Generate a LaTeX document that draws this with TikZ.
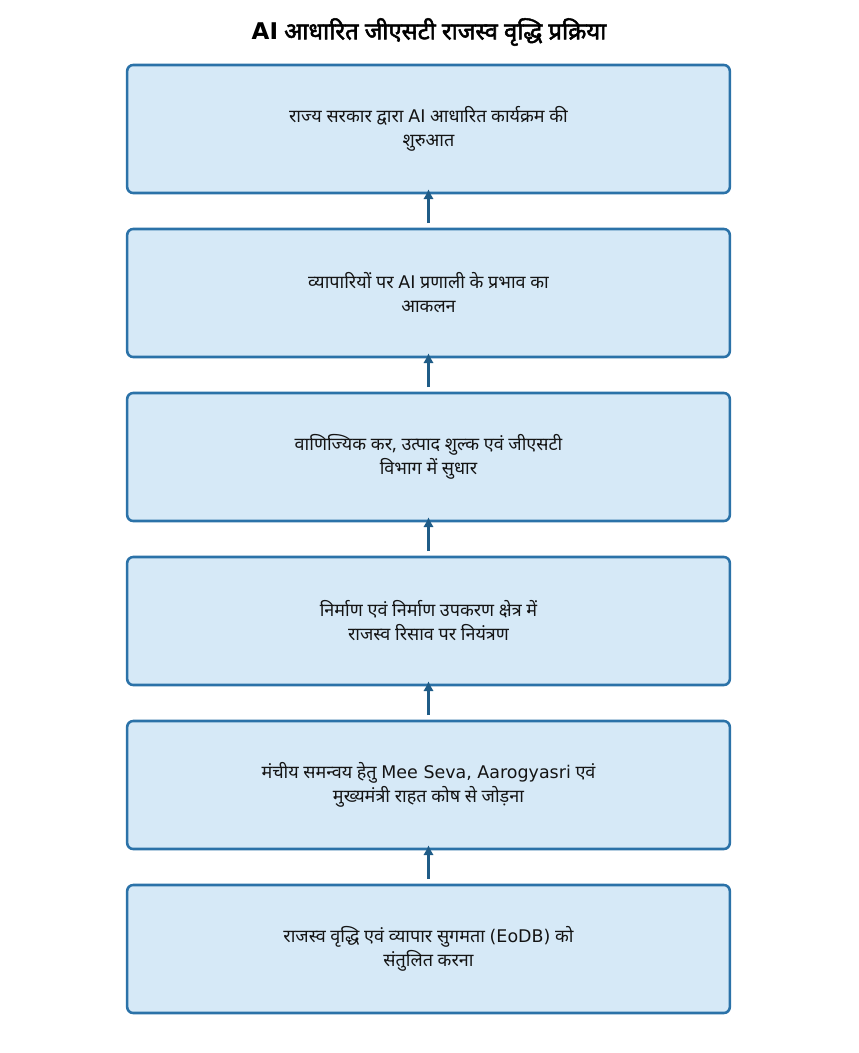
\documentclass[tikz,border=0pt]{standalone}
\usepackage{fontspec}
\setmainfont{Noto Sans}[Script=Devanagari, AutoFakeBold=2.2]
\newfontfamily\latin{DejaVu Sans}[Scale=0.97]
\usetikzlibrary{positioning,arrows.meta}
\definecolor{boxfill}{HTML}{D6E9F7}
\definecolor{boxline}{HTML}{2B72A8}
\definecolor{arrline}{HTML}{1F5C87}
\definecolor{textcol}{HTML}{141414}
\tikzset{
	stepbox/.style={draw=boxline, line width=1.9pt, fill=boxfill, rounded corners=4.5pt,
		outer sep=0pt, minimum width=452pt, minimum height=96pt, align=center, text=textcol,
		font=\fontsize{13.5}{18}\selectfont},
	uparrow/.style={draw=arrline, line width=2pt, -{Latex[length=7.5pt,width=8pt]},
		shorten <=4.5pt, shorten >=-3pt}
}
\begin{document}
\begin{tikzpicture}[x=0.75pt,y=0.75pt]
	\useasboundingbox (0,0) rectangle (858,-1053);
	% Title
	\node[font=\fontsize{17.8}{20}\selectfont\bfseries, text=black] (title) at (429,-32) {{\latin\bfseries AI} आधारित जीएसटी राजस्व वृद्धि प्रक्रिया};
	% Process boxes, top to bottom
	\node[stepbox] (launch) at (428.5,-129) {राज्य सरकार द्वारा {\latin AI} आधारित कार्यक्रम की\\शुरुआत};
	\node[stepbox, below=27pt of launch] (assess) {व्यापारियों पर {\latin AI} प्रणाली के प्रभाव का\\आकलन};
	\node[stepbox, below=27pt of assess] (reform) {वाणिज्यिक कर, उत्पाद शुल्क एवं जीएसटी\\विभाग में सुधार};
	\node[stepbox, below=27pt of reform] (leak) {निर्माण एवं निर्माण उपकरण क्षेत्र में\\राजस्व रिसाव पर नियंत्रण};
	\node[stepbox, below=27pt of leak] (link) {मंचीय समन्वय हेतु {\latin Mee Seva, Aarogyasri} एवं\\मुख्यमंत्री राहत कोष से जोड़ना};
	\node[stepbox, below=27pt of link] (balance) {राजस्व वृद्धि एवं व्यापार सुगमता {\latin (EoDB)} को\\संतुलित करना};
	% Arrows point upward
	\draw[uparrow] (assess) -- (launch);
	\draw[uparrow] (reform) -- (assess);
	\draw[uparrow] (leak) -- (reform);
	\draw[uparrow] (link) -- (leak);
	\draw[uparrow] (balance) -- (link);
\end{tikzpicture}
\end{document}
